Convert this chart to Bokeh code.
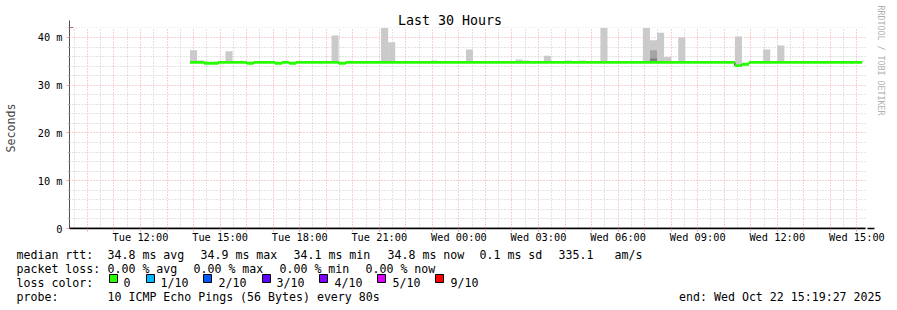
from datetime import datetime, timedelta

from bokeh.plotting import figure
from bokeh.models import FixedTicker, Arrow, NormalHead, Range1d, Title
from bokeh.core.properties import value
from bokeh.embed import file_html
from bokeh.resources import INLINE

# ------------------------------------------------------------------ data
END_TIME = datetime(2025, 10, 22, 15, 19, 27)
SPAN_HOURS = 30
FIRST_BIN = datetime(2025, 10, 21, 13, 52, 0)
BIN_MINUTES = 16

# median rtt per 16-minute bin (ms)
median_ms = [
    34.8, 34.8, 34.6, 34.6, 34.8, 34.8, 34.8, 34.8, 34.6, 34.8,
    34.8, 34.8, 34.6, 34.8, 34.6, 34.8, 34.8, 34.8, 34.8, 34.8,
    34.8, 34.6, 34.8, 34.8, 34.8, 34.8, 34.8, 34.8, 34.8, 34.8,
    34.8, 34.8, 34.8, 34.8, 34.8, 34.8, 34.8, 34.8, 34.8, 34.8,
    34.8, 34.8, 34.8, 34.8, 34.8, 34.8, 34.8, 34.8, 34.8, 34.8,
    34.8, 34.8, 34.8, 34.8, 34.8, 34.8, 34.8, 34.8, 34.8, 34.8,
    34.8, 34.8, 34.8, 34.8, 34.8, 34.8, 34.8, 34.8, 34.8, 34.8,
    34.8, 34.8, 34.8, 34.8, 34.8, 34.8, 34.8, 34.1, 34.4, 34.8,
    34.8, 34.8, 34.8, 34.8, 34.8, 34.8, 34.8, 34.8, 34.8, 34.8,
    34.8, 34.8, 34.8, 34.8, 34.8,
]

# smoke (max ping) for bins where it rises visibly above the median
smoke_bin = [0, 1, 5, 20, 27, 28, 34, 39, 46, 47, 50, 53, 55, 58, 64, 65, 66, 67, 69, 77, 81, 83]
smoke_max = [37.3, 35.2, 37.1, 40.4, 42.0, 39.0, 35.2, 37.5, 35.4, 35.2, 36.2, 35.2, 35.2,
             42.0, 42.0, 39.4, 41.0, 35.9, 40.0, 40.2, 37.5, 38.3]
# inner smoke layers (9th and 8th ping)
smoke2_bin = [65]
smoke2_top = [37.3]
smoke3_bin = [65]
smoke3_top = [35.6]

x_tick_times = ["2025-10-21 12:00", "2025-10-21 15:00", "2025-10-21 18:00", "2025-10-21 21:00",
                "2025-10-22 00:00", "2025-10-22 03:00", "2025-10-22 06:00", "2025-10-22 09:00",
                "2025-10-22 12:00", "2025-10-22 15:00"]
x_tick_labels = ["Tue 12:00", "Tue 15:00", "Tue 18:00", "Tue 21:00", "Wed 00:00",
                 "Wed 03:00", "Wed 06:00", "Wed 09:00", "Wed 12:00", "Wed 15:00"]
y_ticks = [0, 10, 20, 30, 40]
y_tick_labels = ["0", "10 m", "20 m", "30 m", "40 m"]
y_minor = [2, 4, 6, 8, 12, 14, 16, 18, 22, 24, 26, 28, 32, 34, 36, 38, 42]

rtt_stats = ["34.8 ms avg", "34.9 ms max", "34.1 ms min", "34.8 ms now", "0.1 ms sd", "335.1", "am/s"]
loss_stats = ["0.00 % avg", "0.00 % max", "0.00 % min", "0.00 % now"]
loss_labels = ["0", "1/10", "2/10", "3/10", "4/10", "5/10", "9/10"]
loss_colors = ["#26ff00", "#00b8ff", "#0059ff", "#5e00ff", "#7e00ff", "#dd00ff", "#ff0000"]
probe_text = "10 ICMP Echo Pings (56 Bytes) every 80s"
end_text = "end: Wed Oct 22 15:19:27 2025"
title_text = "Last 30 Hours"
credit_text = "RRDTOOL / TOBI OETIKER"

# ------------------------------------------------------------------ helpers
EPOCH = datetime(1970, 1, 1)


def ms(dt):
    return int((dt - EPOCH).total_seconds() * 1000)


start_time = END_TIME - timedelta(hours=SPAN_HOURS)
bin_left = [ms(FIRST_BIN + timedelta(minutes=BIN_MINUTES * i)) for i in range(len(median_ms))]
bin_right = [ms(FIRST_BIN + timedelta(minutes=BIN_MINUTES * (i + 1))) for i in range(len(median_ms))]

W, H = 897, 310
CH = 248                      # chart figure height; legend strip below it
FL, FT, FR, FB = 67, 27, 867, 228
MONO = "DejaVu Sans Mono"
Y_TOP = 42.09

p = figure(width=W, height=CH, output_backend="svg", toolbar_location=None,
           x_range=Range1d(ms(start_time), ms(END_TIME)), y_range=Range1d(0, Y_TOP),
           min_border_left=FL, min_border_right=W - FR, min_border_top=FT,
           min_border_bottom=CH - FB)
p.background_fill_color = "white"
p.border_fill_color = "white"
p.outline_line_color = None

# ---- title (above) and credit (right)
p.add_layout(Title(text=title_text, align="left", offset=328.5, standoff=0,
                   text_font=MONO, text_font_size="13.3px", text_font_style="normal",
                   text_color="black"), "above")
p.add_layout(Title(text=credit_text, align="left", offset=-22, standoff=20,
                   text_font=MONO, text_font_size="8.3px", text_font_style="normal",
                   text_color="#b0b0b0"), "right")

# ---- ticks / grid
x_tick_ms = [ms(datetime.strptime(t, "%Y-%m-%d %H:%M")) for t in x_tick_times]
first_hour = start_time.replace(minute=0, second=0) + timedelta(hours=1)
hour_ms, half_ms = [], []
t = first_hour - timedelta(minutes=30)
while t <= END_TIME:
    (hour_ms if t.minute == 0 else half_ms).append(ms(t))
    t += timedelta(minutes=30)

p.xaxis.ticker = FixedTicker(ticks=x_tick_ms, minor_ticks=hour_ms)
p.xaxis.major_label_overrides = dict(zip(x_tick_ms, x_tick_labels))
p.xgrid.ticker = FixedTicker(ticks=hour_ms, minor_ticks=half_ms)

p.yaxis.ticker = FixedTicker(ticks=y_ticks, minor_ticks=y_minor)
p.yaxis.major_label_overrides = dict(zip(y_ticks, y_tick_labels))

MAJ = "#f5a3a3"
MIN = "#c8c8c8"
for g in (p.xgrid, p.ygrid):
    g.grid_line_color = MAJ
    g.grid_line_dash = "1 2"
    g.minor_grid_line_color = MIN
    g.minor_grid_line_dash = "1 2"

ax = p.xaxis[0]
ax.axis_line_color = "black"
ax.axis_line_width = 1.5
ax.major_tick_in = 0
ax.major_tick_out = 3
ax.major_tick_line_color = MAJ
ax.minor_tick_in = 0
ax.minor_tick_out = 3
ax.minor_tick_line_color = MAJ
ax.major_label_standoff = -1
ax.major_label_text_font = MONO
ax.major_label_text_font_size = "10.3px"
ax.major_label_text_color = "black"

ay = p.yaxis[0]
ay.axis_line_color = "#505050"
ay.major_tick_in = 0
ay.major_tick_out = 3
ay.major_tick_line_color = MAJ
ay.minor_tick_in = 0
ay.minor_tick_out = 2
ay.minor_tick_line_color = MIN
ay.major_label_standoff = 4
ay.major_label_text_font = MONO
ay.major_label_text_font_size = "10.3px"
ay.major_label_text_color = "black"
ay.axis_label = "Seconds"
ay.axis_label_text_font = MONO
ay.axis_label_text_font_size = "11.6px"
ay.axis_label_text_font_style = "normal"
ay.axis_label_standoff = 17

# ---- smoke
p.quad(left=[bin_left[i] for i in smoke_bin], right=[bin_right[i] for i in smoke_bin],
       bottom=[median_ms[i] for i in smoke_bin], top=smoke_max,
       fill_color="#cacaca", line_color=None)
p.quad(left=[bin_left[i] for i in smoke2_bin], right=[bin_right[i] for i in smoke2_bin],
       bottom=[median_ms[i] for i in smoke2_bin], top=smoke2_top,
       fill_color="#a4a4a4", line_color=None)
p.quad(left=[bin_left[i] for i in smoke3_bin], right=[bin_right[i] for i in smoke3_bin],
       bottom=[median_ms[i] for i in smoke3_bin], top=smoke3_top,
       fill_color="#7e7e7e", line_color=None)

# ---- median: dark step line + loss-coloured band
p.step(x=bin_left + [bin_right[-1]], y=median_ms + [median_ms[-1]], mode="after",
       line_color="#202020", line_width=1)
p.quad(left=bin_left, right=bin_right,
       bottom=[m - 0.3 for m in median_ms], top=[m + 0.3 for m in median_ms],
       fill_color=loss_colors[0], line_color=None)

# ---- axis arrow heads, just beyond the ends of the axes
AR = "#8b1a1a"
x_px = (ms(END_TIME) - ms(start_time)) / (FR - FL)      # ms per pixel
y_px = Y_TOP / (FB - FT)                               # value per pixel
p.add_layout(Arrow(end=NormalHead(size=7, fill_color=AR, line_color=AR),
                   x_start=ms(start_time), y_start=Y_TOP,
                   x_end=ms(start_time), y_end=Y_TOP + 7 * y_px,
                   line_color="#505050", line_width=1))
p.add_layout(Arrow(end=NormalHead(size=7, fill_color=AR, line_color=AR),
                   x_start=ms(start_time) - 5 * x_px, y_start=0,
                   x_end=ms(END_TIME) + 9 * x_px, y_end=0,
                   line_color="black", line_width=1.5))

# ------------------------------------------------------------------ legend strip
lg = figure(width=W, height=H - CH, output_backend="svg", toolbar_location=None,
            x_range=Range1d(0, W), y_range=Range1d(H, CH),
            min_border=0, x_axis_location=None, y_axis_location=None)
lg.grid.visible = False
lg.outline_line_color = None
lg.background_fill_color = "white"
lg.border_fill_color = "white"

rtt_x = [107, 200, 293, 387, 479, 558, 614]
loss_x = [107, 193, 279, 365]
box_x = [109, 146, 203, 262, 319, 377, 435]
lab_x = [123, 160, 218, 276, 334, 392, 450]
ROW = [254, 268, 282, 296]

tx = [16] + rtt_x + [16] + loss_x + [16] + lab_x + [16, 107]
ty = ([ROW[0]] * (1 + len(rtt_x)) + [ROW[1]] * (1 + len(loss_x))
      + [ROW[2]] * (1 + len(lab_x)) + [ROW[3]] * 2)
tt = (["median rtt:"] + rtt_stats + ["packet loss:"] + loss_stats
      + ["loss color:"] + loss_labels + ["probe:", probe_text])
lg.text(x=tx, y=ty, text=tt, text_font=value(MONO), text_font_size=value("11.6px"),
        text_baseline="alphabetic", text_align="left", text_color="black")
lg.text(x=[881], y=[ROW[3]], text=[end_text], text_font=value(MONO),
        text_font_size=value("11.6px"), text_baseline="alphabetic", text_align="right",
        text_color="black")
lg.quad(left=box_x, right=[b + 8 for b in box_x], top=[ROW[2] - 8] * len(box_x),
        bottom=[ROW[2]] * len(box_x), fill_color=loss_colors, line_color="black",
        line_width=1)

# two independent roots stacked on the page (no frame alignment between them)
open("out.html", "w").write(file_html([p, lg], INLINE))
